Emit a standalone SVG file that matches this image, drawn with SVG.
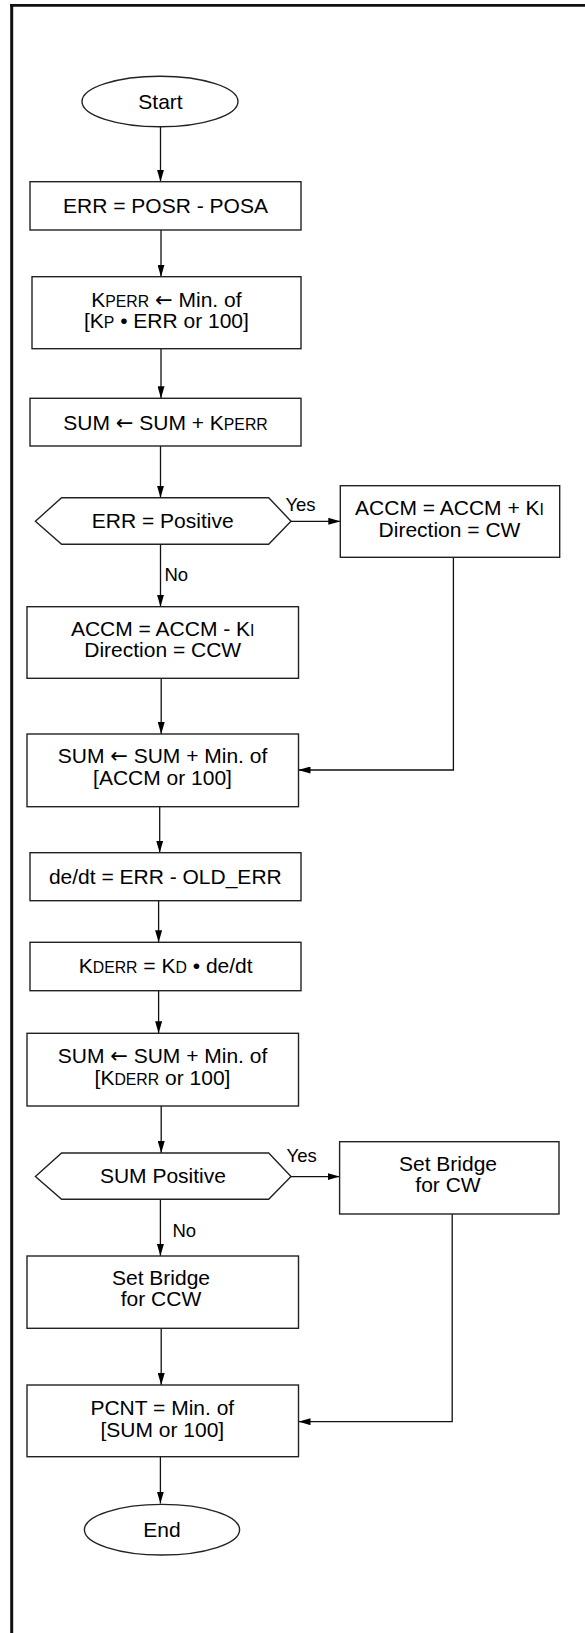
<svg xmlns="http://www.w3.org/2000/svg" width="585" height="1633" viewBox="0 0 585 1633">
<style>
.box{fill:#fff;stroke:#222;stroke-width:1.4}
.ln{fill:none;stroke:#111;stroke-width:1.3}
.t{font-family:"Liberation Sans",Arial,Helvetica,sans-serif;font-size:21px;fill:#000;text-anchor:middle}
.lbl{font-family:"Liberation Sans",Arial,Helvetica,sans-serif;font-size:18.5px;fill:#000}
.sc{font-size:15.8px}
.ar{font-family:"DejaVu Sans",sans-serif;font-size:21px}
</style>
<defs>
<marker id="ah" viewBox="0 0 12 7" refX="12" refY="3.5" markerWidth="12" markerHeight="7" markerUnits="userSpaceOnUse" orient="auto">
<path d="M0,0 L12,3.5 L0,7 z" fill="#000"/>
</marker>
</defs>
<rect width="585" height="1633" fill="#fff"/>
<g id="frame">
<line x1="10" y1="5.3" x2="585" y2="5.3" stroke="#111" stroke-width="2.8"/>
<line x1="11.7" y1="4" x2="11.7" y2="1633" stroke="#111" stroke-width="3"/>
</g>
<g id="connectors">
<line class="ln" x1="160.5" y1="126.8" x2="160.5" y2="181.7" marker-end="url(#ah)"/>
<line class="ln" x1="161" y1="230" x2="161" y2="276.7" marker-end="url(#ah)"/>
<line class="ln" x1="161" y1="348.7" x2="161" y2="398.3" marker-end="url(#ah)"/>
<line class="ln" x1="160.5" y1="446" x2="160.5" y2="497.7" marker-end="url(#ah)"/>
<line class="ln" x1="291" y1="521.3" x2="340.3" y2="521.3" marker-end="url(#ah)"/>
<polyline class="ln" points="453.4,557.3 453.4,770 298.5,770" marker-end="url(#ah)"/>
<line class="ln" x1="160.5" y1="544.3" x2="160.5" y2="606.7" marker-end="url(#ah)"/>
<line class="ln" x1="161.2" y1="678.3" x2="161.2" y2="734" marker-end="url(#ah)"/>
<line class="ln" x1="159.7" y1="806.7" x2="159.7" y2="852.7" marker-end="url(#ah)"/>
<line class="ln" x1="158.6" y1="900.7" x2="158.6" y2="942.3" marker-end="url(#ah)"/>
<line class="ln" x1="158.6" y1="990.7" x2="158.6" y2="1033.3" marker-end="url(#ah)"/>
<line class="ln" x1="161.2" y1="1106" x2="161.2" y2="1153" marker-end="url(#ah)"/>
<line class="ln" x1="291" y1="1176.6" x2="339.6" y2="1176.6" marker-end="url(#ah)"/>
<polyline class="ln" points="452.2,1214 452.2,1421.7 298.5,1421.7" marker-end="url(#ah)"/>
<line class="ln" x1="160.4" y1="1199.3" x2="160.4" y2="1256" marker-end="url(#ah)"/>
<line class="ln" x1="161.2" y1="1328.3" x2="161.2" y2="1385" marker-end="url(#ah)"/>
<line class="ln" x1="160.4" y1="1456.7" x2="160.4" y2="1503.5" marker-end="url(#ah)"/>
<text class="lbl" x="285.4" y="510.5">Yes</text>
<text class="lbl" x="164.5" y="581">No</text>
<text class="lbl" x="286.6" y="1161.5">Yes</text>
<text class="lbl" x="172.4" y="1236.7">No</text>
</g>
<g id="start">
<ellipse class="box" cx="160" cy="101.5" rx="78" ry="25.3"/>
<text class="t" x="160.5" y="109.2">Start</text>
</g>
<g id="err">
<rect class="box" x="30" y="181.7" width="271" height="48.3"/>
<text class="t" x="165.5" y="213.3">ERR = POSR - POSA</text>
</g>
<g id="kperr">
<rect class="box" x="32" y="276.7" width="269" height="72"/>
<text class="t" x="166.4" y="306.5">K<tspan class="sc">PERR</tspan> <tspan class="ar">←</tspan> Min. of</text>
<text class="t" x="166.4" y="327.8">[K<tspan class="sc">P</tspan> • ERR or 100]</text>
</g>
<g id="sum1">
<rect class="box" x="30" y="398.3" width="271" height="47.7"/>
<text class="t" x="165.5" y="430">SUM <tspan class="ar">←</tspan> SUM + K<tspan class="sc">PERR</tspan></text>
</g>
<g id="dec1">
<polygon class="box" points="35.4,521.2 61.6,497.7 268.7,497.7 291,521.2 268.7,544.3 61.6,544.3"/>
<text class="t" x="162.7" y="528.3">ERR = Positive</text>
</g>
<g id="accmcw">
<rect class="box" x="340.3" y="485.7" width="219.4" height="71.6"/>
<text class="t" x="449.5" y="515.3">ACCM = ACCM + K<tspan class="sc">I</tspan></text>
<text class="t" x="449.5" y="536.7">Direction = CW</text>
</g>
<g id="accmccw">
<rect class="box" x="27" y="606.7" width="271.5" height="71.6"/>
<text class="t" x="162.7" y="636">ACCM = ACCM - K<tspan class="sc">I</tspan></text>
<text class="t" x="162.7" y="656.7">Direction = CCW</text>
</g>
<g id="sum2">
<rect class="box" x="27" y="734" width="271.5" height="72.7"/>
<text class="t" x="162.5" y="763.3">SUM <tspan class="ar">←</tspan> SUM + Min. of</text>
<text class="t" x="162.5" y="785">[ACCM or 100]</text>
</g>
<g id="dedt">
<rect class="box" x="30" y="852.7" width="271" height="48"/>
<text class="t" x="165.3" y="884.3">de/dt = ERR - OLD_ERR</text>
</g>
<g id="kderr">
<rect class="box" x="30" y="942.3" width="271" height="48.4"/>
<text class="t" x="165.7" y="973.3">K<tspan class="sc">DERR</tspan> = K<tspan class="sc">D</tspan> • de/dt</text>
</g>
<g id="sum3">
<rect class="box" x="27" y="1033.3" width="271.5" height="72.7"/>
<text class="t" x="162.5" y="1063.3">SUM <tspan class="ar">←</tspan> SUM + Min. of</text>
<text class="t" x="162.5" y="1085">[K<tspan class="sc">DERR</tspan> or 100]</text>
</g>
<g id="dec2">
<polygon class="box" points="35.4,1176.5 61.6,1153 268.7,1153 291,1176.5 268.7,1199.3 61.6,1199.3"/>
<text class="t" x="162.9" y="1183.3">SUM Positive</text>
</g>
<g id="bridgecw">
<rect class="box" x="339.6" y="1141.7" width="219.4" height="72.3"/>
<text class="t" x="448" y="1170.7">Set Bridge</text>
<text class="t" x="448" y="1191.7">for CW</text>
</g>
<g id="bridgeccw">
<rect class="box" x="27" y="1256" width="271.5" height="72.3"/>
<text class="t" x="161" y="1285">Set Bridge</text>
<text class="t" x="161" y="1306">for CCW</text>
</g>
<g id="pcnt">
<rect class="box" x="27" y="1385" width="271.5" height="71.7"/>
<text class="t" x="162.3" y="1414.5">PCNT = Min. of</text>
<text class="t" x="162.3" y="1436.7">[SUM or 100]</text>
</g>
<g id="end">
<ellipse class="box" cx="162" cy="1529.7" rx="77.6" ry="25.3"/>
<text class="t" x="162" y="1537.3">End</text>
</g>
</svg>
